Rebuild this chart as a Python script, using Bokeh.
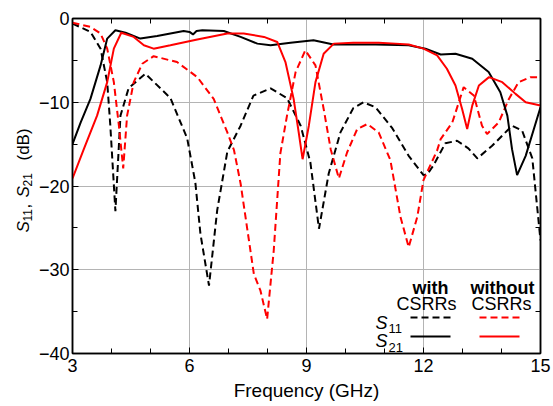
import math
from bokeh.plotting import figure
from bokeh.layouts import row
from bokeh.models import (LinearAxis, FixedTicker, Range1d, Label, Arrow)
from bokeh.embed import file_html
from bokeh.resources import INLINE

# ---- data ----
f_s11_with = [3.0, 3.46, 3.72, 3.89, 3.97, 4.10, 4.23, 4.44, 4.87, 5.51, 5.94, 6.15, 6.28, 6.50, 6.71,
              6.97, 7.31, 7.64, 8.08, 8.5, 8.85, 9.1, 9.32, 9.57, 9.87, 10.2, 10.46, 10.77, 11.2, 11.62,
              12.0, 12.1, 12.26, 12.56, 12.86, 13.15, 13.38, 13.76, 14.27, 14.53, 14.79, 15.0]
s11_with = [-0.6, -1.6, -3.6, -7.6, -12.8, -23.0, -11.6, -8.3, -6.6, -9.5, -14.3, -19.6, -25.7, -31.9, -22.9,
            -15.9, -12.8, -9.2, -8.35, -9.5, -12.8, -17.2, -25.1, -18.5, -13.6, -10.7, -10.0, -10.6, -13.1, -16.4,
            -18.7, -18.6, -17.5, -14.9, -14.6, -15.5, -16.7, -15.2, -12.8, -13.4, -16.7, -26.5]

f_s21_with = [3.0, 3.21, 3.46, 3.72, 3.89, 4.10, 4.36, 4.74, 5.17, 5.85, 6.0, 6.09, 6.18, 6.33, 6.88,
              7.31, 7.74, 8.08, 8.59, 9.18, 9.69, 10.2, 10.77, 11.62, 12.05, 12.44, 12.82, 13.25, 13.67,
              13.97, 14.15, 14.27, 14.4, 14.62, 15.0]
s21_with = [-15.0, -12.4, -9.6, -5.6, -2.4, -1.4, -1.7, -2.4, -2.1, -1.5, -1.6, -1.9, -1.5, -1.4, -1.5,
            -2.2, -3.0, -3.2, -2.9, -2.6, -3.1, -3.1, -3.1, -3.2, -3.6, -4.3, -4.2, -4.8, -6.4,
            -8.8, -11.6, -15.6, -18.7, -16.4, -10.6]

f_s11_without = [3.0, 3.46, 3.72, 3.89, 4.06, 4.19, 4.30, 4.40, 4.57, 4.79, 5.08, 5.68, 6.2, 6.62, 6.97,
                 7.14, 7.31, 7.65, 7.82, 7.99, 8.16, 8.33, 8.5, 8.72, 8.97, 9.23, 9.44, 9.62, 9.83, 10.04,
                 10.3, 10.56, 10.85, 11.15, 11.41, 11.62, 11.84, 12.0, 12.35, 12.44, 12.74, 13.03, 13.29,
                 13.5, 13.63, 13.93, 14.19, 14.44, 14.74, 15.0]
s11_without = [-0.5, -1.0, -1.8, -3.6, -7.6, -12.8, -17.9, -11.6, -7.6, -5.4, -4.5, -5.2, -7.0, -9.6, -13.6,
               -15.7, -19.7, -30.5, -32.5, -35.9, -27.7, -16.1, -11.6, -6.4, -3.8, -5.6, -10.8, -15.6, -19.1, -16.0,
               -13.2, -12.6, -13.6, -16.9, -23.7, -27.3, -23.7, -19.3, -15.75, -14.4, -12.4, -8.2, -9.2,
               -12.8, -13.8, -12.4, -9.6, -7.6, -7.0, -7.0]

f_s21_without = [3.0, 3.29, 3.63, 3.89, 4.06, 4.25, 4.57, 4.83, 5.08, 5.51, 6.2, 6.97, 7.39, 7.91, 8.25,
                 8.46, 8.67, 8.8, 8.9, 9.06, 9.23, 9.44, 9.7, 10.2, 10.85, 11.28, 11.62, 12.0, 12.35, 12.6,
                 12.82, 12.99, 13.12, 13.25, 13.42, 13.68, 14.02, 14.36, 14.62, 15.0]
s21_without = [-19.1, -15.6, -11.6, -7.6, -3.6, -1.7, -2.2, -3.2, -3.6, -3.2, -2.5, -1.8, -1.8, -2.2, -2.8,
               -5.2, -9.6, -13.6, -16.8, -12.8, -7.6, -4.2, -3.0, -2.9, -2.9, -3.0, -3.1, -3.6, -4.4, -6.0,
               -8.0, -10.8, -13.2, -10.4, -8.0, -7.0, -7.6, -9.0, -10.0, -10.4]

x_major = [3, 6, 9, 12, 15]
x_minor = [4, 5, 7, 8, 10, 11, 13, 14]
y_major = [-40, -30, -20, -10, 0]
y_minor = [-35, -25, -15, -5]

FONT = "Liberation Sans"
RED = "#ff0000"
DASH = "7 4"

W, H = 553, 406
STRIP = 35                      # narrow figure on the left holding the y-axis title
ML, MR, MT, MB = 72 - STRIP, 13, 18, 53

# ---- left strip with the rotated y-axis title ----
strip = figure(width=STRIP, height=H, output_backend="svg", toolbar_location=None,
               x_range=Range1d(0, 1), y_range=Range1d(0, 1),
               min_border_left=0, min_border_right=0, min_border_top=MT, min_border_bottom=MB,
               x_axis_location=None, y_axis_location=None)
strip.outline_line_color = None
strip.grid.visible = False
strip.background_fill_color = "white"
strip.border_fill_color = "white"

# ---- main figure ----
p = figure(width=W - STRIP, height=H, output_backend="svg", toolbar_location=None,
           x_range=Range1d(3, 15), y_range=Range1d(-40, 0),
           min_border_left=ML, min_border_right=MR, min_border_top=MT, min_border_bottom=MB,
           x_axis_location=None, y_axis_location=None)
p.background_fill_color = "white"
p.border_fill_color = "white"
p.outline_line_color = "black"
p.outline_line_width = 1.5


def style_axis(ax, ticks, minor):
    ax.ticker = FixedTicker(ticks=ticks, minor_ticks=minor)
    ax.axis_line_color = "black"
    ax.axis_line_width = 1.5
    ax.major_tick_in = 6
    ax.major_tick_out = 0
    ax.minor_tick_in = 5
    ax.minor_tick_out = 0
    ax.major_tick_line_color = "black"
    ax.minor_tick_line_color = "black"
    ax.major_tick_line_width = 1
    ax.minor_tick_line_width = 1
    ax.major_label_text_font = FONT
    ax.major_label_text_font_size = "18px"
    ax.major_label_text_color = "black"


xb = LinearAxis()
style_axis(xb, x_major, x_minor)
xb.major_label_standoff = 5
xb.axis_label = "Frequency (GHz)"
xb.axis_label_text_font = FONT
xb.axis_label_text_font_size = "19px"
xb.axis_label_text_font_style = "normal"
xb.axis_label_text_color = "black"
xb.axis_label_standoff = 5
p.add_layout(xb, "below")
yl = LinearAxis()
style_axis(yl, y_major, y_minor)
yl.major_label_standoff = 3
p.add_layout(yl, "left")
# top / right axes: only minor ticks, no labels
xt = LinearAxis()
style_axis(xt, [], x_minor)
xt.major_label_standoff = 0
p.add_layout(xt, "above")
yr = LinearAxis()
style_axis(yr, [], y_minor)
yr.major_label_standoff = 0
p.add_layout(yr, "right")

# grid only at major positions
p.xgrid.ticker = FixedTicker(ticks=x_major[1:-1])
p.ygrid.ticker = FixedTicker(ticks=y_major[1:-1])
for g in (p.xgrid, p.ygrid):
    g.grid_line_color = "#b4b4b4"
    g.grid_line_width = 1

# curves
p.line(f_s11_with, s11_with, line_color="black", line_width=2, line_dash=DASH)
p.line(f_s11_without, s11_without, line_color=RED, line_width=2, line_dash=DASH)
p.line(f_s21_with, s21_with, line_color="black", line_width=2)
p.line(f_s21_without, s21_without, line_color=RED, line_width=2)

# ---- text helpers: page pixel -> screen units relative to each frame ----
FL = 72          # main frame left on the page
FB = H - MB      # frame bottom on the page (both figures)


def mk(s, sxv, syv, size="17px", style="normal", align="left", angle=0.0, color="black"):
    return Label(x=sxv, y=syv, x_units="screen", y_units="screen", text=s,
                 text_font=FONT, text_font_size=size, text_font_style=style,
                 text_align=align, text_baseline="alphabetic", text_color=color,
                 angle=angle)


def txt(s, px, py, **k):
    p.add_layout(mk(s, px - FL, FB - py, **k))


def seg(x0, x1, py, color, dash="solid"):
    p.add_layout(Arrow(start=None, end=None, x_start=x0 - FL, y_start=FB - py, x_end=x1 - FL, y_end=FB - py,
                       start_units="screen", end_units="screen", line_color=color, line_width=2,
                       line_dash=dash))


A = math.pi / 2


def ytxt(s, px, py, **k):
    strip.add_layout(mk(s, px, FB - py, angle=A, **k))


# y axis title: S11, S21 (dB)
ytxt("S", 23, 232, style="italic")
ytxt("11", 27, 221, size="12px")
ytxt(",", 23, 208)
ytxt("S", 23, 197, style="italic")
ytxt("21", 27, 186, size="12px")
ytxt("(dB)", 23, 160)

# legend
txt("with", 430, 287, size="18px", style="bold", align="center")
txt("without", 502, 287, size="18px", style="bold", align="center")
txt("CSRRs", 426, 303, size="18px", align="center")
txt("CSRRs", 501, 303, size="18px", align="center")
txt("S", 375, 322, size="18px", style="italic")
txt("11", 388, 328, size="13px")
txt("S", 375, 340, size="18px", style="italic")
txt("21", 388, 347, size="13px")
seg(410, 450, 317, "black", DASH)
seg(479, 519, 317, RED, DASH)
seg(410, 450, 336, "black")
seg(479, 519, 336, RED)

layout = row(strip, p, spacing=0)
open("out.html", "w").write(file_html(layout, INLINE))
